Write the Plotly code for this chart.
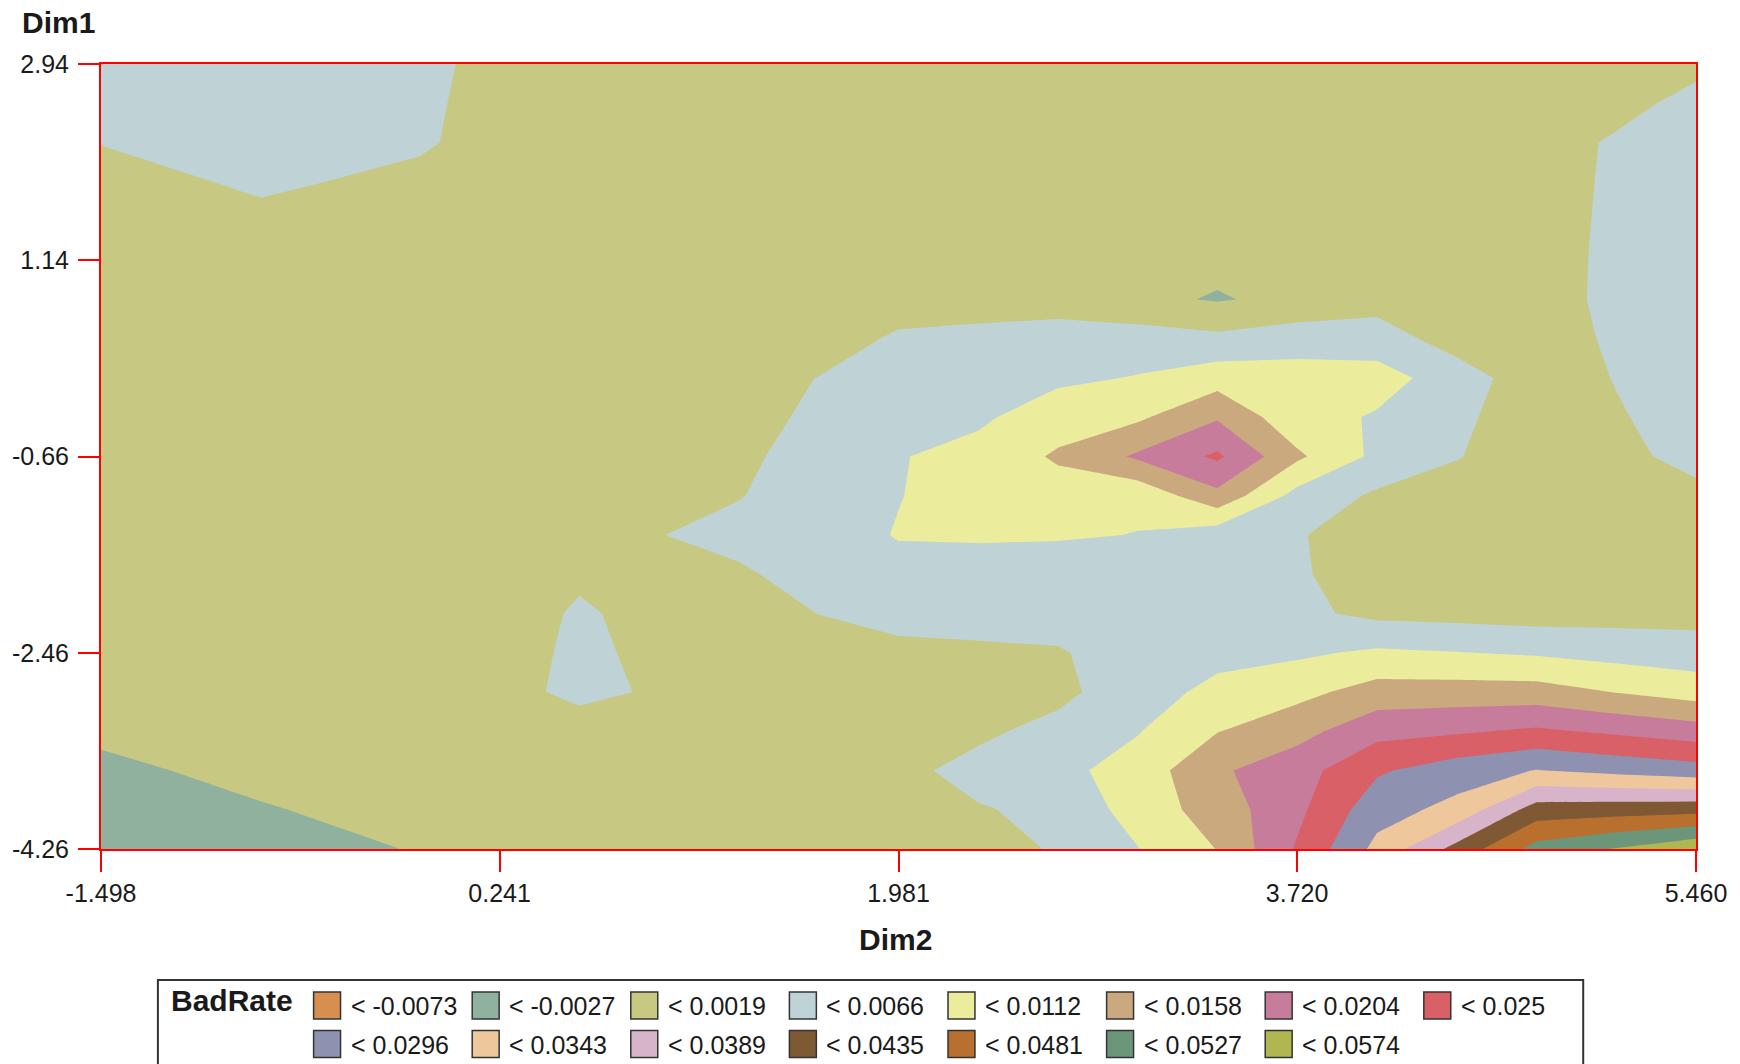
import plotly.graph_objects as go

# Regular interpolation grid (Dim2 across, Dim1 top to bottom)
dim2_grid = [-1.498, -1.150, -0.802, -0.454, -0.106, 0.241, 0.589, 0.937, 1.285, 1.633,
             1.981, 2.329, 2.677, 3.025, 3.372, 3.720, 4.068, 4.416, 4.764, 5.112, 5.460]
dim1_grid = [2.94, 2.58, 2.22, 1.86, 1.50, 1.14, 0.78, 0.42, 0.06, -0.30, -0.66,
             -1.02, -1.38, -1.74, -2.10, -2.46, -2.82, -3.18, -3.54, -3.90, -4.26]

K = -0.0004
# BadRate on the grid, one row per Dim1 value (first row = Dim1 2.94)
badrate = [
    [0.0045, 0.0045, 0.0045, 0.0045, 0.0035, 0.0000, K, K, K, K, K, K, K, K, K, K, K, K, K, K, 0.0006],
    [0.0045, 0.0045, 0.0045, 0.0045, 0.0030, -0.0001, K, K, K, K, K, K, K, K, K, K, K, K, K, 0.0003, 0.0035],
    [0.0022, 0.0040, 0.0045, 0.0040, 0.0026, -0.0001, K, K, K, K, K, K, K, K, K, K, K, K, K, 0.0026, 0.0045],
    [-0.0013, 0.0012, 0.0030, 0.0017, 0.0007, K, K, K, K, K, K, K, K, K, K, K, K, K, K, 0.0028, 0.0045],
    [K, K, 0.0004, K, K, K, K, K, K, K, K, K, K, K, K, K, K, K, K, 0.0030, 0.0045],
    [K, K, K, K, K, K, K, K, K, K, K, K, K, K, -0.0017, K, K, K, K, 0.0032, 0.0045],
    [K, K, K, K, K, K, K, K, K, K, -0.0014, -0.0013, -0.0006, -0.0018, -0.0030, -0.0017, -0.0003, K, K, 0.0033, 0.0045],
    [K, K, K, K, K, K, K, K, K, -0.0016, 0.0030, 0.0040, 0.0045, 0.0041, 0.0030, 0.0045, 0.0047, -0.0006, K, 0.0027, 0.0045],
    [K, K, K, K, K, K, K, K, -0.0010, 0.0021, 0.0045, 0.0048, 0.0057, 0.0068, 0.0091, 0.0085, 0.0080, 0.0048, -0.0014, 0.0022, 0.0045],
    [K, K, K, K, K, K, K, K, -0.0009, 0.0035, 0.0045, 0.0058, 0.0090, 0.0104, 0.0153, 0.0080, 0.0062, 0.0030, -0.0009, 0.0014, 0.0045],
    [K, K, K, K, K, K, K, K, 0.0009, 0.0040, 0.0063, 0.0080, 0.0118, 0.0165, 0.0212, 0.0120, 0.0055, 0.0022, -0.0010, 0.0006, 0.0035],
    [K, K, K, K, K, K, K, K, 0.0017, 0.0045, 0.0064, 0.0085, 0.0090, 0.0078, 0.0145, 0.0050, 0.0012, K, K, K, 0.0006],
    [K, K, K, K, K, K, K, 0.0018, 0.0035, 0.0045, 0.0068, 0.0075, 0.0072, 0.0064, 0.0040, 0.0023, K, K, K, K, K],
    [K, K, K, K, K, K, 0.0010, K, 0.0012, 0.0040, 0.0052, 0.0030, 0.0029, 0.0040, 0.0040, 0.0025, K, K, K, K, K],
    [K, K, K, K, K, -0.0011, 0.0027, 0.0000, K, 0.0020, 0.0040, 0.0045, 0.0045, 0.0045, 0.0045, 0.0030, 0.0008, 0.0004, -0.0001, 0.0002, 0.0003],
    [K, K, K, K, K, -0.0007, 0.0032, 0.0005, K, K, 0.0004, 0.0008, 0.0014, 0.0048, 0.0055, 0.0058, 0.0073, 0.0067, 0.0060, 0.0049, 0.0041],
    [K, K, K, K, K, 0.0002, 0.0032, 0.0013, K, K, K, K, 0.0006, 0.0050, 0.0075, 0.0098, 0.0131, 0.0132, 0.0131, 0.0110, 0.0091],
    [-0.0015, -0.0012, -0.0005, K, K, K, K, K, K, K, K, 0.0010, 0.0035, 0.0063, 0.0110, 0.0142, 0.0189, 0.0198, 0.0212, 0.0196, 0.0179],
    [-0.0040, -0.0025, -0.0008, K, K, K, K, K, K, K, 0.0007, 0.0035, 0.0053, 0.0085, 0.0151, 0.0185, 0.0244, 0.0275, 0.0298, 0.0284, 0.0270],
    [-0.0050, -0.0045, -0.0032, -0.0017, -0.0012, K, K, K, K, K, K, 0.0016, 0.0030, 0.0085, 0.0133, 0.0193, 0.0278, 0.0310, 0.0410, 0.0415, 0.0420],
    [-0.0058, -0.0052, -0.0040, -0.0038, -0.0023, K, K, K, K, K, K, K, 0.0025, 0.0064, 0.0113, 0.0209, 0.0309, 0.0404, 0.0498, 0.0530, 0.0565],
]

# Contour levels
level_start = -0.0073
level_step = 0.004617
level_end = 0.0528

band_labels = ["< -0.0073", "< -0.0027", "< 0.0019", "< 0.0066", "< 0.0112",
               "< 0.0158", "< 0.0204", "< 0.025", "< 0.0296", "< 0.0343",
               "< 0.0389", "< 0.0435", "< 0.0481", "< 0.0527", "< 0.0574"]
band_colors = ["#D68F4E", "#8FB19D", "#C7C983", "#BFD2D6", "#EBED9D",
               "#CAA97F", "#C87C9C", "#DA6068", "#8F91B0", "#EEC79C",
               "#D7B4CA", "#7F5834", "#B9702E", "#6B967A", "#B0B650"]

x_tickvals = [-1.498, 0.241, 1.981, 3.720, 5.460]
x_ticktext = ["-1.498", "0.241", "1.981", "3.720", "5.460"]
y_tickvals = [2.94, 1.14, -0.66, -2.46, -4.26]
y_ticktext = ["2.94", "1.14", "-0.66", "-2.46", "-4.26"]

W, H = 1740, 1064
ML, MR, MT, MB = 98, 44, 64, 215
PW, PH = W - ML - MR, H - MT - MB
FONT = "Liberation Sans, Arial, sans-serif"
INK = "#1a1a1a"


def px(x):
    return (x - ML) / PW


def py(y):
    return (H - MB - y) / PH


n_bands = len(band_colors)
colorscale = [[k / (n_bands - 1), c] for k, c in enumerate(band_colors)]

fig = go.Figure()
fig.add_trace(go.Contour(
    x=dim2_grid,
    y=dim1_grid[::-1],
    z=badrate[::-1],
    autocontour=False,
    contours=dict(start=level_start, end=level_end, size=level_step,
                  coloring="fill", showlines=False),
    line=dict(width=0, smoothing=0),
    colorscale=colorscale,
    showscale=False,
    hoverinfo="skip",
))

axis_common = dict(
    showgrid=False, zeroline=False, showline=True, linecolor="#FF0000",
    linewidth=2, mirror=True, ticks="outside", ticklen=21, tickwidth=2,
    tickcolor="#FF0000", tickfont=dict(family=FONT, size=25, color=INK),
)

fig.update_xaxes(range=[-1.498, 5.460], tickvals=x_tickvals, ticktext=x_ticktext,
                 ticklabelstandoff=0, **axis_common)
fig.update_yaxes(range=[-4.26, 2.94], tickvals=y_tickvals, ticktext=y_ticktext,
                 ticklabelstandoff=4, **axis_common)

annotations = [
    dict(text="Dim1", x=px(17), y=py(22), xref="paper", yref="paper",
         xanchor="left", yanchor="middle", showarrow=False,
         font=dict(family=FONT, size=30, color=INK, weight="bold")),
    dict(text="Dim2", x=px(894), y=py(939), xref="paper", yref="paper",
         xanchor="center", yanchor="middle", showarrow=False,
         font=dict(family=FONT, size=30, color=INK, weight="bold")),
    dict(text="BadRate", x=px(166), y=py(1000), xref="paper", yref="paper",
         xanchor="left", yanchor="middle", showarrow=False,
         font=dict(family=FONT, size=30, color=INK, weight="bold")),
]
shapes = [
    dict(type="rect", xref="paper", yref="paper",
         x0=px(155), x1=px(1583), y0=py(980), y1=py(1080),
         line=dict(color="#333333", width=2), fillcolor="rgba(0,0,0,0)"),
]

per_row = 8
col_pitch = 158.9
row_pitch = 38.5
for k, (lab, col) in enumerate(zip(band_labels, band_colors)):
    r, c = divmod(k, per_row)
    sx = 311 + c * col_pitch
    sy = 992 + r * row_pitch
    shapes.append(dict(type="rect", xref="paper", yref="paper",
                       x0=px(sx), x1=px(sx + 27), y0=py(sy), y1=py(sy + 27),
                       fillcolor=col, line=dict(color="#333333", width=1.5)))
    annotations.append(dict(text=lab, x=px(sx + 35), y=py(sy + 14),
                            xref="paper", yref="paper", xanchor="left",
                            yanchor="middle", showarrow=False,
                            font=dict(family=FONT, size=25, color=INK)))

fig.update_layout(
    width=W, height=H,
    margin=dict(l=ML, r=MR, t=MT, b=MB, pad=0),
    paper_bgcolor="white", plot_bgcolor="white",
    showlegend=False,
    annotations=annotations,
    shapes=shapes,
)

fig.write_html("out.html")
